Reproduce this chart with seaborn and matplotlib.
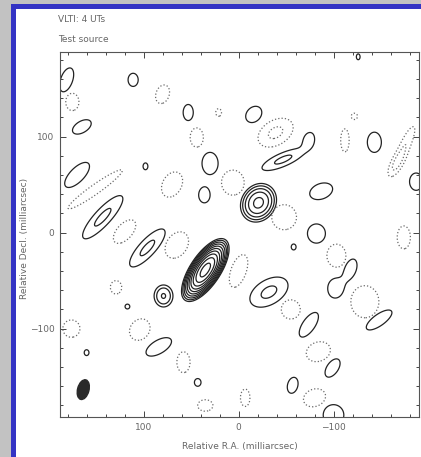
import numpy as np
import matplotlib
matplotlib.use("Agg")
import matplotlib.pyplot as plt
from matplotlib.patches import Ellipse, Rectangle
from matplotlib.ticker import MultipleLocator
import seaborn as sns

# Map components (milliarcsec): offset in R.A., offset in Decl., peak,
# Gaussian sigma along / across the major axis, position angle (deg E of N)
pos_ra   = [35, -21, -47, 143, 96, -32, 79,
            181, 111, 53, -16, 165, -74, -143, -126, 170, 98, 30, 36, -87, -82,
            -187, -58, -102, -118, 117, -74, -148, 160, 84, -99, 43, -57, -100]
pos_dec  = [-39, 31, 76, 16, -16, -62, -66,
            159, 159, 125, 123, 110, 97, 94, 183, 60, 69, 72, 39, 43, -1,
            53, -15, -58, -38, -77, -96, -91, -125, -119, -141, -156, -159, -190]
pos_peak = [700, 20, 2.3, 2.3, 2.3, 2.3, 4.3,
            1.8, 1.8, 1.8, 1.8, 1.8, 1.8, 1.8, 1.8, 1.8, 1.8, 1.8, 1.8, 1.8, 1.8,
            1.8, 1.8, 1.8, 1.8, 1.8, 1.8, 1.8, 1.8, 1.8, 1.8, 1.8, 1.8, 1.8]
pos_smaj = [10.5, 8.6, 18.6, 23, 20, 17, 6.7,
            12, 6.3, 7.7, 8.7, 10, 6.8, 9.7, 2.8, 15.6, 3.2, 10.6, 7.4, 11.5, 9.2,
            8.3, 2.8, 9.2, 10, 2.3, 13.8, 14.7, 2.8, 13.8, 10, 3.7, 7.8, 10]
pos_smin = [4.4, 7.3, 5.4, 6.6, 6.6, 10, 5.8,
            5.8, 4.9, 4.9, 6.8, 5.5, 4.9, 6.8, 1.8, 6.8, 2.3, 7.8, 5.5, 7.4, 8.7,
            6.4, 2.3, 7.4, 5.5, 2.3, 6.0, 5.5, 2.3, 6.4, 5.5, 3.2, 5.0, 10]
pos_pa   = [-34, -35, -67, -43, -43, -60, 0,
            -20, 0, 0, -45, -60, -20, 0, 0, -45, 0, 0, 0, -70, 0,
            0, 0, 0, -20, 0, -35, -55, 0, -60, -35, 0, -15, 0]

neg_ra   = [175, 80, 44, 21, -39, -112, -176, -166, 151, 70, 6, -48, 120, 65,
            0, -103, -174, -133, 129, 176, 104, 58, -84, -7, 35, -80, -55, -122]
neg_dec  = [136, 144, 99, 125, 104, 96, 92, 71, 45, 50, 52, 16, 1, -13,
            -40, -24, -5, -72, -57, -100, -101, -135, -124, -172, -180, -172, -80, 121]
neg_peak = [1.8, 1.8, 1.8, 1.8, 2.3, 1.8, 1.8, 1.8, 1.8, 1.8, 1.8, 1.8, 1.8, 1.8,
            1.8, 1.8, 1.8, 1.8, 1.8, 1.8, 1.8, 1.8, 1.8, 1.8, 1.8, 1.8, 1.8, 1.8]
neg_smaj = [8.3, 9.2, 9.2, 3.7, 15.5, 11, 18.4, 11, 32, 12.9, 12, 12, 13.8, 13.8,
            16.5, 11, 11, 15.4, 6.4, 8.3, 11, 10, 12, 8.3, 7.4, 11, 9.2, 3]
neg_smin = [6.4, 6.4, 6.4, 2.8, 10, 4.1, 4.6, 4.6, 4.6, 9.2, 11, 12, 7.4, 10,
            7.4, 9.2, 6.4, 13.6, 5.5, 8.3, 9.2, 6.4, 9.2, 4.6, 5.5, 8.3, 9.2, 3]
neg_pa   = [0, -20, 0, 0, -60, 0, -25, -30, -55, -30, 0, 0, -43, -35,
            -20, 0, 0, 0, 0, 0, -40, 0, -70, 0, 90, -70, 0, 0]

# Contour levels (doubling) for positive and negative emission
pos_levels = [1, 2, 4, 8, 16, 32, 64, 128, 256, 512]
neg_levels = [1, 2]

# Restoring beam: centre, FWHM axes (mas) and orientation
beam_ra, beam_dec = 163.5, -163.5
beam_width, beam_height, beam_angle = 12, 21, 15

x_ticks = [100, 0, -100]
y_ticks = [-100, 0, 100]

grid = np.linspace(-200, 200, 601)
RA, DEC = np.meshgrid(grid, grid)


def brightness(ra, dec, peak, smaj, smin, pa):
    field = np.zeros_like(RA)
    for r, d, a, sj, sn, p in zip(ra, dec, peak, smaj, smin, pa):
        t = np.deg2rad(p)
        dx, dy = RA - r, DEC - d
        u = dx * np.sin(t) + dy * np.cos(t)
        v = dx * np.cos(t) - dy * np.sin(t)
        field += a * np.exp(-0.5 * ((u / sj) ** 2 + (v / sn) ** 2))
    return field


pos_map = brightness(pos_ra, pos_dec, pos_peak, pos_smaj, pos_smin, pos_pa)
neg_map = brightness(neg_ra, neg_dec, neg_peak, neg_smaj, neg_smin, neg_pa)

sns.set_style("ticks")
plt.rcParams["font.family"] = ["DejaVu Sans"]

W, H = 421, 457
fig = plt.figure(figsize=(W / 100, H / 100), dpi=100)
fig.patch.set_facecolor("#c2c2c2")

panel = Rectangle((12.5 / W, -0.1), 1.2, 1 - 6.5 / H + 0.1, transform=fig.transFigure,
                  facecolor="white", edgecolor="#3434c4", linewidth=3.6, zorder=-1)
fig.patches.append(panel)

ax = fig.add_axes([60 / W, 1 - 417 / H, 359 / W, 365 / H])
ax.set_facecolor("white")

ax.contour(RA, DEC, pos_map, levels=pos_levels, colors="#222222", linewidths=0.9)
ax.contour(RA, DEC, neg_map, levels=neg_levels, colors="#6a6a6a", linewidths=0.9,
           linestyles="dotted")

ax.add_patch(Ellipse((beam_ra, beam_dec), beam_width, beam_height, angle=beam_angle,
                     facecolor="#2a2a2a", edgecolor="#2a2a2a"))

ax.set_xlim(188, -190)
ax.set_ylim(-192, 188)
ax.set_xticks(x_ticks)
ax.set_yticks(y_ticks)
ax.xaxis.set_minor_locator(MultipleLocator(20))
ax.yaxis.set_minor_locator(MultipleLocator(20))
ax.tick_params(which="both", direction="in", top=True, right=True,
               colors="#444444", labelcolor="#666666", labelsize=6.5, width=0.7)
ax.tick_params(which="major", length=4, pad=4)
ax.tick_params(which="minor", length=2.5)
for s in ax.spines.values():
    s.set_color("#555555")
    s.set_linewidth(0.8)

ax.set_xlabel("Relative R.A. (milliarcsec)", fontsize=6.5, color="#666666")
ax.set_ylabel("Relative Decl. (milliarcsec)", fontsize=6.5, color="#666666")
ax.xaxis.set_label_coords(0.5, -0.068)
ax.yaxis.set_label_coords(-0.085, 0.49)

fig.text(58 / W, 1 - 20 / H, "VLTI: 4 UTs", fontsize=6.5, color="#666666", va="center")
fig.text(58 / W, 1 - 40 / H, "Test source", fontsize=6.5, color="#666666", va="center")

fig.savefig("out.png", dpi=100, facecolor=fig.get_facecolor())
